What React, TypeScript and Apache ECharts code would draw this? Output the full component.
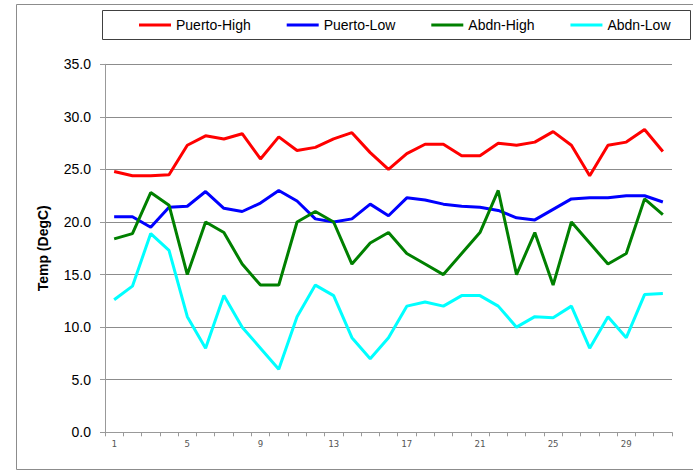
import React, { useEffect, useRef } from "react";
import * as echarts from "echarts";

const days: string[] = [
  "1","2","3","4","5","6","7","8","9","10","11","12","13","14","15","16",
  "17","18","19","20","21","22","23","24","25","26","27","28","29","30","31",
];

const puertoHigh: number[] = [
  24.8, 24.4, 24.4, 24.5, 27.3, 28.2, 27.9, 28.4, 26.0, 28.1, 26.8, 27.1, 27.9, 28.5, 26.6, 25.0,
  26.5, 27.4, 27.4, 26.3, 26.3, 27.5, 27.3, 27.6, 28.6, 27.3, 24.4, 27.3, 27.6, 28.8, 26.7,
];

const puertoLow: number[] = [
  20.5, 20.5, 19.5, 21.4, 21.5, 22.9, 21.3, 21.0, 21.8, 23.0, 22.0, 20.3, 20.0, 20.3, 21.7, 20.6,
  22.3, 22.1, 21.7, 21.5, 21.4, 21.1, 20.4, 20.2, 21.2, 22.2, 22.3, 22.3, 22.5, 22.5, 21.9,
];

const abdnHigh: number[] = [
  18.4, 18.9, 22.8, 21.6, 15.0, 20.0, 19.0, 16.0, 14.0, 14.0, 20.0, 21.0, 20.0, 16.0, 18.0, 19.0,
  17.0, 16.0, 15.0, 17.0, 19.0, 23.0, 15.0, 19.0, 14.0, 20.0, 18.0, 16.0, 17.0, 22.2, 20.7,
];

const abdnLow: number[] = [
  12.6, 13.9, 18.9, 17.3, 11.0, 8.0, 13.0, 10.0, 8.0, 6.0, 11.0, 14.0, 13.0, 9.0, 7.0, 9.0,
  12.0, 12.4, 12.0, 13.0, 13.0, 12.0, 10.0, 11.0, 10.9, 12.0, 8.0, 11.0, 9.0, 13.1, 13.2,
];

const seriesNames: string[] = ["Puerto-High", "Puerto-Low", "Abdn-High", "Abdn-Low"];
const seriesColors: string[] = ["#FF0000", "#0000FF", "#008000", "#00FFFF"];
const yAxisTitle = "Temp (DegC)";

export default function App() {
  const ref = useRef<HTMLDivElement>(null);

  useEffect(() => {
    if (!ref.current) return;
    const chart = echarts.init(ref.current, undefined, { renderer: "svg" });
    const data = [puertoHigh, puertoLow, abdnHigh, abdnLow];
    chart.setOption({
      animation: false,
      backgroundColor: "#ffffff",
      textStyle: { fontFamily: "Liberation Sans" },
      graphic: [
        {
          type: "rect",
          shape: { x: 16.5, y: 4.5, width: 690, height: 465 },
          style: { fill: "none", stroke: "#8c8c8c", lineWidth: 1 },
          silent: true,
        },
        {
          type: "rect",
          shape: { x: 102.5, y: 10.5, width: 588, height: 29 },
          style: { fill: "#ffffff", stroke: "#404040", lineWidth: 1 },
          silent: true,
          z: -1,
        },
      ],
      legend: {
        data: seriesNames,
        left: 139,
        top: 18,
        padding: 0,
        icon: "rect",
        itemWidth: 32,
        itemHeight: 3,
        itemGap: 36,
        textStyle: { fontFamily: "Liberation Sans", fontSize: 14, color: "#000000" },
      },
      grid: { left: 105, right: 21, top: 64.3, bottom: 37.7, containLabel: false },
      xAxis: {
        type: "category",
        data: days,
        boundaryGap: true,
        axisLine: { show: true, lineStyle: { color: "#999999", width: 1 } },
        axisTick: { show: true, interval: 0, length: 4, lineStyle: { color: "#999999" } },
        axisLabel: {
          interval: 3,
          margin: 7,
          fontFamily: "DejaVu Sans Mono",
          fontSize: 9,
          color: "#555555",
        },
        splitLine: { show: false },
      },
      yAxis: {
        type: "value",
        min: 0,
        max: 35,
        interval: 5,
        name: yAxisTitle,
        nameLocation: "middle",
        nameRotate: 90,
        nameGap: 55,
        nameTextStyle: { fontFamily: "Liberation Sans", fontSize: 14, fontWeight: "bold", color: "#000000" },
        axisLine: { show: true, lineStyle: { color: "#999999", width: 1 } },
        axisTick: { show: true, length: 5, lineStyle: { color: "#999999" } },
        axisLabel: {
          margin: 14,
          fontFamily: "Liberation Sans",
          fontSize: 14,
          color: "#000000",
          formatter: (v: number) => v.toFixed(1),
        },
        splitLine: { show: true, lineStyle: { color: "#8c8c8c", width: 1 } },
      },
      series: seriesNames.map((name, i) => ({
        name,
        type: "line",
        data: data[i],
        symbol: "none",
        showSymbol: false,
        lineStyle: { color: seriesColors[i], width: 3 },
        itemStyle: { color: seriesColors[i] },
        z: 3 + i,
      })),
    });
    return () => chart.dispose();
  }, []);

  return (
    <div
      ref={ref}
      style={{ position: "fixed", left: 0, top: 0, width: 693, height: 470 }}
    />
  );
}
